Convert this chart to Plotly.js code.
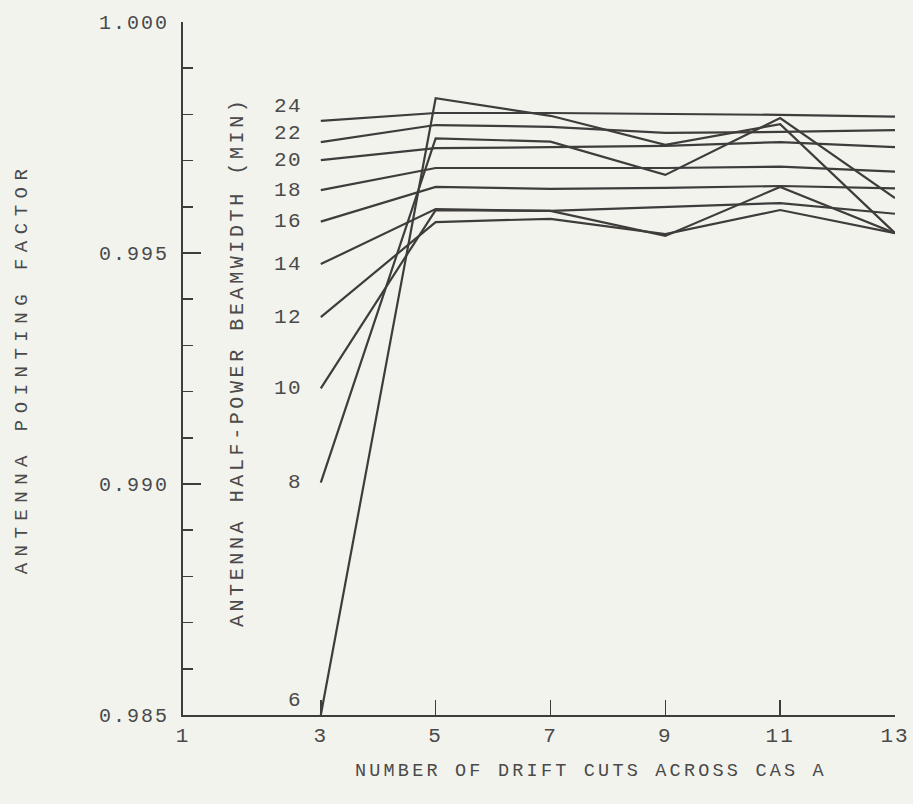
<!DOCTYPE html>
<html>
<head>
<meta charset="utf-8">
<script src="https://cdn.plot.ly/plotly-3.0.1.min.js"></script>
<style>
  html, body { margin: 0; padding: 0; background: #f3f3ee; }
  #chart { width: 913px; height: 804px; }
  .ytitle { letter-spacing: 6.5px; }
  .annotation-text { letter-spacing: 1.5px; }
  g.annotation[data-index="10"] text { letter-spacing: 3.6px; }
  g.annotation[data-index="11"] text { letter-spacing: 3.2px; }
  .xtick text, .ytick text { letter-spacing: 2px; }
</style>
</head>
<body>
<div id="chart"></div>
<script>
// Number of drift cuts across Cas A
const driftCuts = [3, 5, 7, 9, 11, 13];
const xTickVals = [0.6, 3, 5, 7, 9, 11, 13];
const xTickText = ['1', '3', '5', '7', '9', '11', '13'];

// Antenna half-power beamwidth (min) for each curve
const beamwidths = [6, 8, 10, 12, 14, 16, 18, 20, 22, 24];

// Antenna pointing factor, per beamwidth, at 3,5,7,9,11,13 drift cuts
const bw6  = [0.98500, 0.99835, 0.99797, 0.99734, 0.99779, 0.99543];
const bw8  = [0.99003, 0.99748, 0.99741, 0.99669, 0.99792, 0.99619];
const bw10 = [0.99207, 0.99593, 0.99591, 0.99537, 0.99643, 0.99543];
const bw12 = [0.99361, 0.99567, 0.99574, 0.99541, 0.99593, 0.99543];
const bw14 = [0.99476, 0.99595, 0.99591, 0.99600, 0.99608, 0.99585];
const bw16 = [0.99568, 0.99643, 0.99639, 0.99641, 0.99645, 0.99640];
const bw18 = [0.99636, 0.99684, 0.99684, 0.99684, 0.99687, 0.99676];
const bw20 = [0.99701, 0.99727, 0.99729, 0.99732, 0.99740, 0.99729];
const bw22 = [0.99740, 0.99777, 0.99773, 0.99760, 0.99762, 0.99766];
const bw24 = [0.99786, 0.99803, 0.99803, 0.99801, 0.99799, 0.99795];

const series = [bw6, bw8, bw10, bw12, bw14, bw16, bw18, bw20, bw22, bw24];

// label vertical nudges (style only), keyed by beamwidth
const labelShift = {6: 15, 22: 9, 24: 14};

const lineColor = '#3f3c3c';
const textColor = '#4a4a4a';
const fontFam = '"Liberation Mono", "DejaVu Sans Mono", monospace';

const traces = series.map((vals, i) => ({
  x: driftCuts,
  y: vals,
  type: 'scatter',
  mode: 'lines',
  name: String(beamwidths[i]),
  line: {color: lineColor, width: 2.2},
  hoverinfo: 'x+y+name',
  showlegend: false
}));

const annotations = series.map((vals, i) => ({
  x: driftCuts[0],
  y: vals[0],
  xref: 'x', yref: 'y',
  text: String(beamwidths[i]),
  showarrow: false,
  xanchor: 'right',
  yanchor: 'middle',
  xshift: -17,
  yshift: labelShift[beamwidths[i]] || 0,
  font: {family: fontFam, size: 21, color: textColor}
}));

// inner axis label (beamwidth)
annotations.push({
  x: 0.077, y: 0.51, xref: 'paper', yref: 'paper',
  text: 'ANTENNA HALF-POWER BEAMWIDTH (MIN)',
  textangle: -90,
  showarrow: false,
  xanchor: 'center', yanchor: 'middle',
  font: {family: fontFam, size: 20, color: textColor}
});

// x-axis title (placed right of centre as in the original)
annotations.push({
  x: 0.573, y: -0.081, xref: 'paper', yref: 'paper',
  text: 'NUMBER OF DRIFT CUTS ACROSS CAS A',
  showarrow: false,
  xanchor: 'center', yanchor: 'middle',
  font: {family: fontFam, size: 18.5, color: textColor}
});

const layout = {
  width: 913,
  height: 804,
  margin: {l: 183, r: 18, t: 22, b: 89},
  paper_bgcolor: '#f3f3ee',
  plot_bgcolor: '#f3f3ee',
  font: {family: fontFam, size: 20, color: textColor},
  showlegend: false,
  xaxis: {
    range: [0.6, 13],
    tickmode: 'array',
    tickvals: xTickVals,
    ticktext: xTickText,
    ticks: 'inside',
    ticklen: 15,
    tickwidth: 1.6,
    tickcolor: lineColor,
    showline: true,
    linecolor: lineColor,
    linewidth: 2,
    showgrid: false,
    zeroline: false,
    ticklabelstandoff: 0,
    tickfont: {family: fontFam, size: 21, color: textColor}
  },
  yaxis: {
    range: [0.985, 1.0],
    tickmode: 'linear',
    tick0: 0.985,
    dtick: 0.005,
    tickformat: '.3f',
    ticks: 'inside',
    ticklen: 18,
    tickwidth: 1.6,
    tickcolor: lineColor,
    minor: {dtick: 0.001, ticks: 'inside', ticklen: 10, tickwidth: 1.6, tickcolor: lineColor, showgrid: false},
    showline: true,
    linecolor: lineColor,
    linewidth: 2,
    showgrid: false,
    zeroline: false,
    ticklabelstandoff: 8,
    tickfont: {family: fontFam, size: 20, color: textColor},
    title: {text: 'ANTENNA POINTING FACTOR', standoff: 66,
            font: {family: fontFam, size: 19, color: textColor}}
  },
  annotations: annotations
};

Plotly.newPlot('chart', traces, layout, {staticPlot: true, displayModeBar: false});
</script>
</body>
</html>
